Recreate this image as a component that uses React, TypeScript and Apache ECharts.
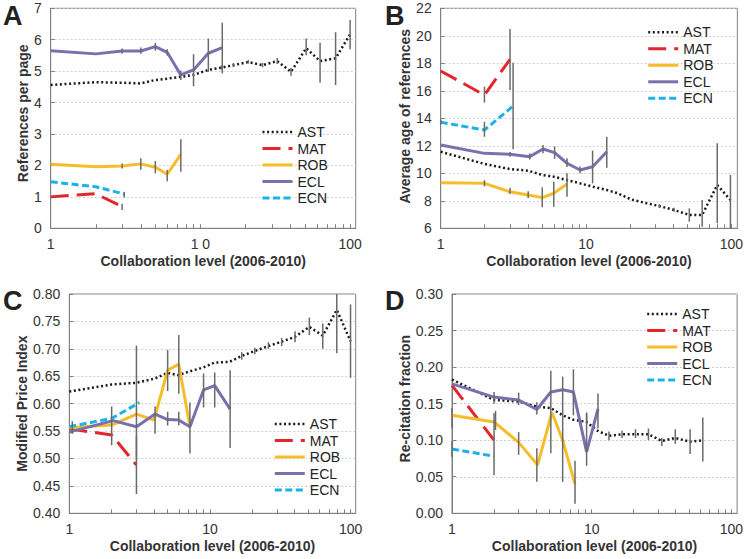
import React, { useEffect, useRef } from 'react';
import * as echarts from 'echarts';

const SERIES_NAMES = ['AST', 'MAT', 'ROB', 'ECL', 'ECN'];
const X_LABELS = [1, 10, 100];
const X_TICKS = [1, 2, 3, 4, 5, 6, 7, 8, 9, 10, 20, 30, 40, 50, 60, 70, 80, 90, 100];
const X_NAME = 'Collaboration level (2006-2010)';

// Panel A: references per page
const refsAST = [[1, 4.56], [2, 4.65], [3, 4.63], [4, 4.61], [5, 4.72], [6, 4.76], [7.4, 4.82], [9, 4.88], [11.3, 5.04], [13.8, 5.11], [16.6, 5.19], [20.9, 5.29], [26, 5.19], [32.6, 5.32], [40.3, 4.98], [50.9, 5.73], [63, 5.32], [80, 5.41], [100, 6.17]];
const refsMAT = [[1, 1.0], [2, 1.1], [3, 0.69]];
const refsROB = [[1, 2.04], [2, 1.96], [3, 1.98], [4, 2.05], [5, 1.94], [6, 1.72], [7.4, 2.35]];
const refsECL = [[1, 5.65], [2, 5.55], [3, 5.64], [4, 5.64], [5, 5.78], [6, 5.6], [7.4, 4.88], [9, 5.04], [11.3, 5.57], [14, 5.75]];
const refsECN = [[1, 1.48], [2, 1.32], [3.1, 1.09]];
const refsErr = [[3, 5.55, 5.72], [4, 5.55, 5.75], [5, 5.65, 5.9], [6, 5.5, 5.7], [7.4, 4.72, 5.02], [9, 4.52, 5.54], [11.3, 4.98, 6.04], [14, 4.93, 6.54], [13.8, 5.05, 5.18], [16.6, 5.13, 5.26], [20.9, 5.24, 5.36], [26, 5.12, 5.26], [32.6, 5.23, 5.42], [40.3, 4.85, 5.1], [50.9, 5.51, 6.04], [63, 4.63, 5.9], [80, 4.56, 6.24], [100, 5.7, 6.63], [3, 1.9, 2.06], [4, 1.86, 2.23], [5, 1.75, 2.14], [6, 1.5, 1.86], [7.4, 1.8, 2.83], [3.1, 0.98, 1.16], [3, 0.58, 0.78]];

// Panel B: average age of references
const ageAST = [[1, 11.57], [2, 10.68], [3, 10.31], [4, 10.19], [5, 9.88], [6, 9.75], [7.4, 9.51], [9.1, 9.27], [11.1, 9.03], [13.9, 8.79], [16.5, 8.55], [20.4, 8.1], [25.2, 7.86], [31.9, 7.62], [40.4, 7.33], [51.4, 6.97], [63, 6.97], [80, 9.15], [98.6, 8.06]];
const ageMAT = [[1, 17.44], [2, 15.69], [3, 18.29]];
const ageROB = [[1, 9.32], [2, 9.27], [3, 8.66], [4, 8.42], [5, 8.23], [6, 8.55], [7.4, 9.22]];
const ageECL = [[1, 12.06], [2, 11.45], [3, 11.38], [4.1, 11.21], [5.06, 11.77], [6.08, 11.5], [7.4, 10.73], [9.1, 10.24], [11.1, 10.48], [13.9, 11.57]];
const ageECN = [[1, 13.71], [2, 13.15], [3.15, 14.89]];
const ageErr = [[1, 13.55, 13.9], [2, 12.66, 13.75], [2, 15.14, 16.3], [3, 16.06, 20.5], [3.15, 11.75, 18.04], [2, 9.05, 9.5], [3, 8.5, 8.95], [4, 8.2, 8.7], [5, 7.53, 8.98], [6, 7.57, 9.39], [7.4, 8.3, 10.0], [3, 11.2, 11.55], [4.1, 11.0, 11.45], [5.06, 11.45, 12.06], [6.08, 11.05, 11.95], [7.4, 10.45, 11.1], [9.1, 10.0, 10.5], [11.1, 9.27, 11.65], [13.9, 10.41, 12.66], [31.9, 7.5, 7.75], [40.4, 7.2, 7.5], [51.4, 6.48, 7.45], [63, 6.12, 8.06], [80, 6.36, 12.18], [98.6, 5.88, 9.88]];

// Panel C: modified price index
const mpiAST = [[1, 0.622], [2, 0.635], [3, 0.638], [4.07, 0.646], [4.98, 0.656], [5.95, 0.652], [7.2, 0.659], [8.95, 0.666], [10.8, 0.675], [13.7, 0.676], [16.8, 0.687], [20.8, 0.696], [26, 0.705], [32.3, 0.713], [40.2, 0.722], [50.8, 0.74], [63.3, 0.724], [79.6, 0.771], [99.7, 0.714]];
const mpiMAT = [[1, 0.554], [2, 0.543], [3, 0.488]];
const mpiROB = [[1, 0.556], [2, 0.561], [3, 0.581], [4, 0.57], [5, 0.661], [6, 0.672], [7.2, 0.558]];
const mpiECL = [[1, 0.548], [2.05, 0.569], [3, 0.558], [4.07, 0.581], [5, 0.571], [6, 0.57], [7.2, 0.558], [9, 0.625], [10.8, 0.633], [13.9, 0.59]];
const mpiECN = [[1, 0.558], [2, 0.573], [3.15, 0.602]];
const mpiErr = [[1.05, 0.545, 0.568], [2, 0.524, 0.595], [3, 0.5, 0.706], [3, 0.435, 0.541], [4.07, 0.545, 0.595], [5, 0.623, 0.698], [5, 0.56, 0.585], [6, 0.618, 0.725], [6, 0.56, 0.585], [7.2, 0.509, 0.602], [9, 0.593, 0.655], [10.8, 0.593, 0.657], [13.9, 0.519, 0.661], [16.8, 0.68, 0.694], [20.8, 0.69, 0.702], [26, 0.7, 0.712], [32.3, 0.705, 0.72], [40.2, 0.712, 0.732], [50.8, 0.725, 0.757], [63.3, 0.7, 0.746], [79.6, 0.692, 0.816], [99.7, 0.647, 0.781]];

// Panel D: re-citation fraction
const recAST = [[1, 0.183], [2, 0.155], [3, 0.153], [4.05, 0.146], [5.1, 0.144], [6.2, 0.134], [7.4, 0.128], [9.2, 0.125], [11, 0.113], [13.3, 0.106], [16.5, 0.108], [20.6, 0.108], [25.5, 0.108], [31.8, 0.099], [39.7, 0.103], [50.7, 0.098], [62.5, 0.1]];
const recMAT = [[1, 0.175], [2, 0.1]];
const recROB = [[1, 0.134], [2, 0.125], [3, 0.097], [4.1, 0.066], [5.2, 0.138], [6.2, 0.1], [7.6, 0.04]];
const recECL = [[1, 0.177], [2, 0.159], [3, 0.155], [4.05, 0.142], [5.1, 0.166], [6.2, 0.169], [7.4, 0.166], [9.2, 0.084], [11.1, 0.143]];
const recECN = [[1, 0.088], [2, 0.078]];
const recErr = [[1, 0.116, 0.144], [1, 0.077, 0.099], [2, 0.052, 0.137], [2.05, 0.114, 0.14], [2, 0.15, 0.166], [3, 0.08, 0.111], [3, 0.148, 0.165], [4.05, 0.043, 0.089], [4.05, 0.135, 0.152], [5.1, 0.082, 0.195], [6.2, 0.043, 0.187], [7.4, 0.134, 0.197], [7.6, 0.013, 0.072], [9.2, 0.065, 0.136], [9.2, 0.122, 0.138], [11.1, 0.116, 0.164], [13.3, 0.1, 0.112], [16.5, 0.103, 0.113], [20.6, 0.103, 0.115], [25.5, 0.1, 0.116], [31.8, 0.092, 0.103], [39.7, 0.095, 0.115], [50.7, 0.081, 0.115], [62.5, 0.071, 0.131]];

const COLORS: Record<string, string> = { AST: '#1a1a1a', MAT: '#e2262c', ROB: '#f5bd29', ECL: '#7b70ae', ECN: '#1ab2e8' };
const DASHES: Record<string, any> = { AST: [2, 2.6], MAT: [18, 8], ROB: 'solid', ECL: 'solid', ECN: [7, 3.5] };
const WIDTHS: Record<string, number> = { AST: 2.5, MAT: 3, ROB: 3, ECL: 3, ECN: 3 };
const FONT = "'Liberation Sans', Arial, sans-serif";
const AXIS_GRAY = '#808080';
const TEXT = '#333333';

const PANELS = [
  { letter: 'A', letterPos: [3, 2], grid: { left: 50.7, top: 8.3, width: 305, height: 220 }, xMax: 109, yMin: 0, yMax: 7, yInt: 1, yDec: 0,
    yName: 'References per page', yGap: 21, yPad: [0, 0, 0, 10], ten: '1 0', legend: [261, 125],
    data: { AST: refsAST, MAT: refsMAT, ROB: refsROB, ECL: refsECL, ECN: refsECN }, err: refsErr },
  { letter: 'B', letterPos: [385, 2], grid: { left: 440.7, top: 8.3, width: 297.3, height: 220 }, xMax: 110, yMin: 6, yMax: 22, yInt: 2, yDec: 0,
    yName: 'Average age of references', yGap: 29, yPad: [0, 0, 0, 4], ten: '10', legend: [646.7, 25.3],
    data: { AST: ageAST, MAT: ageMAT, ROB: ageROB, ECL: ageECL, ECN: ageECN }, err: ageErr },
  { letter: 'C', letterPos: [3, 287], grid: { left: 69.3, top: 294, width: 286.4, height: 219.3 }, xMax: 108.5, yMin: 0.4, yMax: 0.8, yInt: 0.05, yDec: 2,
    yName: 'Modified Price Index', yGap: 39, yPad: [0, 0, 0, 0], ten: '10', legend: [273.3, 417],
    data: { AST: mpiAST, MAT: mpiMAT, ROB: mpiROB, ECL: mpiECL, ECN: mpiECN }, err: mpiErr },
  { letter: 'D', letterPos: [385, 287], grid: { left: 452, top: 294, width: 287, height: 219.3 }, xMax: 110, yMin: 0, yMax: 0.3, yInt: 0.05, yDec: 2,
    yName: 'Re-citation fraction', yGap: 39, yPad: [0, 0, 0, 10], ten: '10', legend: [645.7, 307],
    data: { AST: recAST, MAT: recMAT, ROB: recROB, ECL: recECL, ECN: recECN }, err: recErr },
];

function buildOption() {
  const grid: any[] = [];
  const xAxis: any[] = [];
  const yAxis: any[] = [];
  const series: any[] = [];
  const legend: any[] = [];
  const graphic: any[] = [];

  PANELS.forEach((p, i) => {
    grid.push({ ...p.grid, show: true, borderColor: AXIS_GRAY, borderWidth: 1, backgroundColor: 'transparent', containLabel: false });
    xAxis.push({
      type: 'log', logBase: 10, gridIndex: i, min: 1, max: p.xMax,
      axisLine: { show: true, lineStyle: { color: AXIS_GRAY, width: 1 } },
      axisTick: { show: true, inside: true, length: 4, customValues: X_TICKS, lineStyle: { color: AXIS_GRAY, width: 1 } },
      axisLabel: {
        customValues: X_LABELS, color: TEXT, fontSize: 14, fontFamily: FONT, margin: 9,
        formatter: (v: number) => { const r = Math.round(v); return r === 10 ? p.ten : String(r); },
      },
      splitLine: { show: false },
      name: X_NAME, nameLocation: 'middle', nameGap: 26,
      nameTextStyle: { fontWeight: 'bold', fontSize: 14, color: TEXT, fontFamily: FONT },
    });
    yAxis.push({
      type: 'value', gridIndex: i, min: p.yMin, max: p.yMax, interval: p.yInt,
      axisLine: { show: true, lineStyle: { color: AXIS_GRAY, width: 1 } },
      axisTick: { show: true, inside: true, length: 4, lineStyle: { color: AXIS_GRAY } },
      axisLabel: { color: TEXT, fontSize: 14, fontFamily: FONT, margin: 9, formatter: (v: number) => v.toFixed(p.yDec) },
      splitLine: { show: true, lineStyle: { color: '#d0d0d0', type: [2, 2], width: 1 } },
      name: p.yName, nameLocation: 'middle', nameGap: p.yGap,
      nameTextStyle: { fontWeight: 'bold', fontSize: 14, color: TEXT, fontFamily: FONT, padding: p.yPad },
    });
    SERIES_NAMES.forEach((n) => {
      series.push({
        type: 'line', name: n, xAxisIndex: i, yAxisIndex: i, data: (p.data as any)[n],
        symbol: 'none', showSymbol: false, silent: true, z: 2,
        lineStyle: { color: COLORS[n], width: WIDTHS[n], type: DASHES[n] },
        itemStyle: { color: COLORS[n] },
      });
    });
    const lo = p.yMin, hi = p.yMax;
    series.push({
      type: 'custom', name: 'err' + i, xAxisIndex: i, yAxisIndex: i, data: p.err, silent: true, z: 3,
      encode: { x: 0, y: [1, 2] },
      renderItem: (params: any, api: any) => {
        const x = api.value(0);
        const a = Math.max(lo, Math.min(hi, api.value(1)));
        const b = Math.max(lo, Math.min(hi, api.value(2)));
        const p1 = api.coord([x, a]);
        const p2 = api.coord([x, b]);
        return { type: 'line', shape: { x1: p1[0], y1: p1[1], x2: p2[0], y2: p2[1] }, style: { stroke: '#6a6a6a', lineWidth: 1.5 } };
      },
    });
    legend.push({
      orient: 'vertical', left: p.legend[0], top: p.legend[1], itemWidth: 30, itemHeight: 14, itemGap: 2.5,
      selectedMode: false, padding: 0,
      textStyle: { fontSize: 14, color: '#222', fontFamily: FONT, lineHeight: 14 },
      data: SERIES_NAMES.map((n) => ({ name: n, itemStyle: { opacity: 0 }, lineStyle: { color: COLORS[n], width: WIDTHS[n], type: DASHES[n] } })),
    });
    graphic.push({
      type: 'text', left: p.letterPos[0], top: p.letterPos[1],
      style: { text: p.letter, fontSize: 27, fontWeight: 'bold', fill: '#222', fontFamily: FONT },
    });
  });

  return { animation: false, textStyle: { fontFamily: FONT }, grid, xAxis, yAxis, series, legend, graphic };
}

export default function App() {
  const ref = useRef<HTMLDivElement>(null);
  useEffect(() => {
    if (!ref.current) return;
    const chart = echarts.init(ref.current, undefined, { renderer: 'svg' });
    chart.setOption(buildOption() as any);
    return () => chart.dispose();
  }, []);
  return <div ref={ref} style={{ position: 'fixed', left: 0, top: 0, width: 746, height: 559, background: '#fff' }} />;
}
